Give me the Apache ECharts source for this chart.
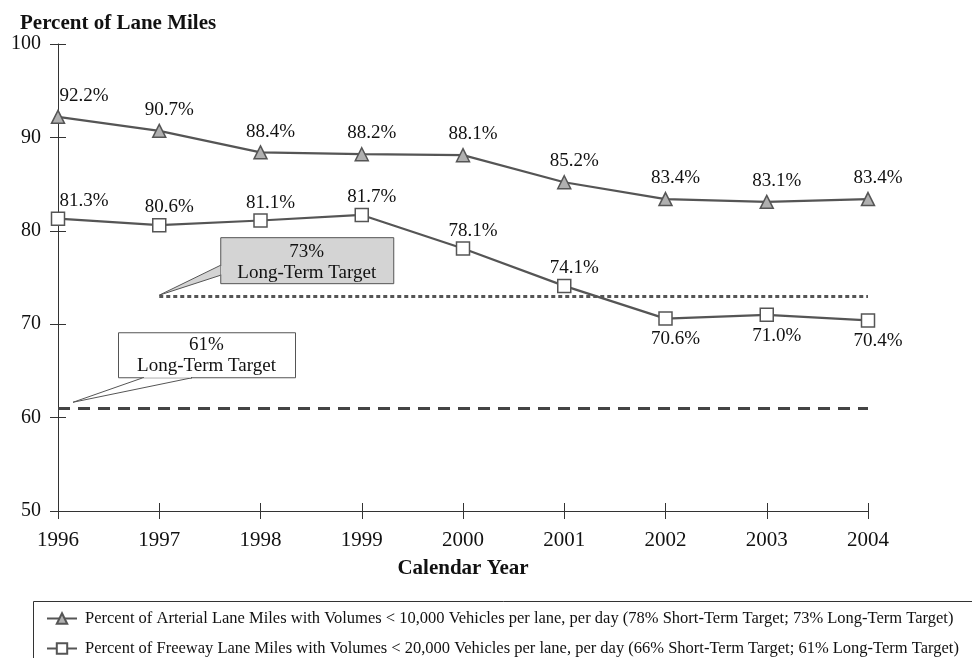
<!DOCTYPE html>
<html><head><meta charset="utf-8">
<script src="https://cdn.jsdelivr.net/npm/echarts@6/dist/echarts.min.js"></script>
<style>html,body{margin:0;padding:0;background:#fff}#c{width:972px;height:658px}</style>
</head><body><div id="c"></div>
<script>
const years = ['1996','1997','1998','1999','2000','2001','2002','2003','2004'];
const arterial = [92.2, 90.7, 88.4, 88.2, 88.1, 85.2, 83.4, 83.1, 83.4];
const freeway = [81.3, 80.6, 81.1, 81.7, 78.1, 74.1, 70.6, 71.0, 70.4];
const yTicks = [50, 60, 70, 80, 90, 100];
const arterialTarget = 73;
const freewayTarget = 61;
const xTitle = 'Calendar Year';
const yTitle = 'Percent of Lane Miles';
const arterialName = 'Percent of Arterial Lane Miles with Volumes < 10,000 Vehicles per lane, per day (78% Short-Term Target; 73% Long-Term Target)';
const freewayName = 'Percent of Freeway Lane Miles with Volumes < 20,000 Vehicles per lane, per day (66% Short-Term Target; 61% Long-Term Target)';

const FONT = '"Liberation Serif", "Times New Roman", serif';
const INK = '#555';
const chart = echarts.init(document.getElementById('c'), null, {renderer: 'canvas'});

function labelled(values, below) {
  return values.map((v, i) => {
    const isBelow = below.indexOf(i) >= 0;
    return {
      value: v,
      label: {
        position: isBelow ? 'bottom' : 'top',
        distance: isBelow ? 4 : undefined,
        offset: [i === 0 ? 26 : 10, 0]
      }
    };
  });
}

const yMin = yTicks[0], yMax = yTicks[yTicks.length - 1];
const baseAxis = {type: 'category', data: years, boundaryGap: false};
const legendBase = {
  orient: 'horizontal', left: 41, itemWidth: 30, itemHeight: 13,
  textStyle: {fontFamily: FONT, fontSize: 16.5, color: '#111', padding: [0, 0, 0, 3]}
};

chart.setOption({
  animation: false,
  title: {
    text: yTitle, left: 15, top: 8,
    textStyle: {fontFamily: FONT, fontSize: 21, fontWeight: 'bold', color: '#111'}
  },
  grid: {left: 58, right: 104, top: 44, bottom: 147},
  xAxis: [
    Object.assign({}, baseAxis, {
      axisLine: {lineStyle: {color: '#333', width: 1}},
      axisTick: {length: 8, alignWithLabel: true, lineStyle: {color: '#333'}},
      axisLabel: {fontFamily: FONT, fontSize: 21, color: '#111', margin: 19},
      splitLine: {show: false}
    }),
    Object.assign({}, baseAxis, {
      position: 'bottom', axisLine: {show: false},
      axisTick: {inside: true, length: 8, lineStyle: {color: '#333'}},
      axisLabel: {show: false}, splitLine: {show: false}
    })
  ],
  yAxis: [
    {
      type: 'value', min: yMin, max: yMax, interval: 10,
      axisLine: {show: true, lineStyle: {color: '#333', width: 1}},
      axisTick: {show: true, length: 8, lineStyle: {color: '#333'}},
      axisLabel: {fontFamily: FONT, fontSize: 20, color: '#111', margin: 17},
      splitLine: {show: false}
    },
    {
      type: 'value', min: yMin, max: yMax, interval: 10, position: 'left',
      axisLine: {show: false},
      axisTick: {show: true, inside: true, length: 8, lineStyle: {color: '#333'}},
      axisLabel: {show: false}, splitLine: {show: false}
    }
  ],
  legend: [
    Object.assign({}, legendBase, {top: 605, data: [arterialName]}),
    Object.assign({}, legendBase, {top: 635, data: [freewayName]})
  ],
  series: [
    {
      name: arterialName, type: 'line', data: labelled(arterial, []),
      symbol: 'triangle', symbolSize: 13,
      lineStyle: {color: INK, width: 2.2},
      itemStyle: {color: '#b0b0b0', borderColor: INK, borderWidth: 1.5},
      label: {show: true, formatter: p => p.value.toFixed(1) + '%', distance: 4,
        fontFamily: FONT, fontSize: 19, color: '#111'},
      markLine: {
        silent: true, symbol: 'none', label: {show: false},
        lineStyle: {color: INK, type: [4, 3], width: 3},
        data: [[{coord: ['1997', arterialTarget]}, {coord: ['2004', arterialTarget]}]]
      },
      z: 3
    },
    {
      name: freewayName, type: 'line', data: labelled(freeway, [6, 7, 8]),
      symbol: 'rect', symbolSize: 13,
      lineStyle: {color: INK, width: 2.2},
      itemStyle: {color: '#fff', borderColor: INK, borderWidth: 1.5},
      label: {show: true, formatter: p => p.value.toFixed(1) + '%', distance: 1,
        fontFamily: FONT, fontSize: 19, color: '#111'},
      markLine: {
        silent: true, symbol: 'none', label: {show: false},
        lineStyle: {color: '#444', type: [12, 8], width: 3},
        data: [[{coord: ['1996', freewayTarget]}, {coord: ['2004', freewayTarget]}]]
      },
      z: 3
    }
  ]
});

const toPx = (x, y) => chart.convertToPixel({xAxisIndex: 0, yAxisIndex: 0}, [x, y]);
const p73 = toPx('1997', arterialTarget);
const p61 = toPx('1996', freewayTarget);
const pL = toPx(years[0], yMin), pR = toPx(years[years.length - 1], yMin);

const b73 = {x: p73[0] + 61, y: p73[1] - 59, w: 173, h: 46};
const t73 = [p73[0], p73[1] - 1];
const b61 = {x: p61[0] + 60, y: p61[1] - 76, w: 177, h: 45};
const t61 = [p61[0] + 15, p61[1] - 6];

const txtStyle = {fontFamily: FONT, fontSize: 19, fill: '#111', textAlign: 'center', textVerticalAlign: 'middle'};

chart.setOption({
  graphic: [
    {type: 'text', x: (pL[0] + pR[0]) / 2, y: pL[1] + 58,
      style: {text: xTitle, fontFamily: FONT, fontSize: 21, fontWeight: 'bold', fill: '#111', textAlign: 'center', textVerticalAlign: 'middle'}},
    {type: 'rect', shape: {x: 33.5, y: 601.5, width: 960, height: 80},
      style: {fill: 'none', stroke: '#333', lineWidth: 1}, z: 1},
    {type: 'rect', shape: {x: b73.x + 0.5, y: b73.y + 0.5, width: b73.w, height: b73.h},
      style: {fill: '#d4d4d4', stroke: INK, lineWidth: 1}, z: 10},
    {type: 'polygon', shape: {points: [[b73.x + 0.5, b73.y + 28], t73, [b73.x + 0.5, b73.y + 38]]},
      style: {fill: '#d4d4d4', stroke: INK, lineWidth: 1}, z: 10},
    {type: 'line', shape: {x1: b73.x + 1.5, y1: b73.y + 28.5, x2: b73.x + 1.5, y2: b73.y + 37.5},
      style: {stroke: '#d4d4d4', lineWidth: 2}, z: 11},
    {type: 'text', x: b73.x + b73.w / 2, y: b73.y + 15, style: Object.assign({text: arterialTarget + '%'}, txtStyle), z: 12},
    {type: 'text', x: b73.x + b73.w / 2, y: b73.y + 36, style: Object.assign({text: 'Long-Term Target'}, txtStyle), z: 12},
    {type: 'rect', shape: {x: b61.x + 0.5, y: b61.y + 0.5, width: b61.w, height: b61.h},
      style: {fill: '#fff', stroke: INK, lineWidth: 1}, z: 10},
    {type: 'polygon', shape: {points: [[b61.x + 25, b61.y + b61.h + 0.5], t61, [b61.x + 74, b61.y + b61.h + 0.5]]},
      style: {fill: '#fff', stroke: INK, lineWidth: 1}, z: 10},
    {type: 'line', shape: {x1: b61.x + 26, y1: b61.y + b61.h - 0.5, x2: b61.x + 73, y2: b61.y + b61.h - 0.5},
      style: {stroke: '#fff', lineWidth: 2}, z: 11},
    {type: 'text', x: b61.x + b61.w / 2, y: b61.y + 13, style: Object.assign({text: freewayTarget + '%'}, txtStyle), z: 12},
    {type: 'text', x: b61.x + b61.w / 2, y: b61.y + 34, style: Object.assign({text: 'Long-Term Target'}, txtStyle), z: 12}
  ]
});
</script>
</body></html>
